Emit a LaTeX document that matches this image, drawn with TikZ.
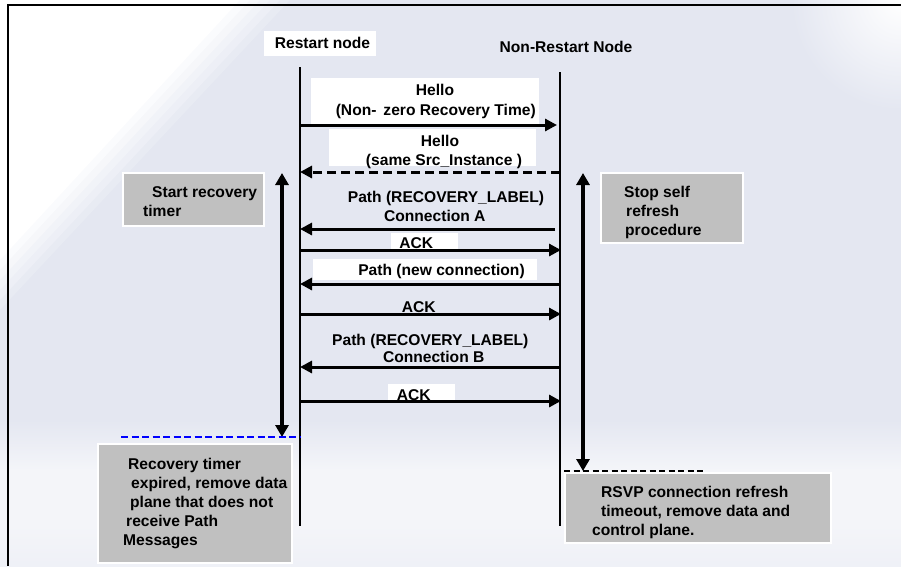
\documentclass[tikz,border=0pt]{standalone}
\usepackage{fontspec}
\setmainfont{Liberation Sans}
\usetikzlibrary{arrows.meta}
\definecolor{bgc}{HTML}{E4E7F1}
\definecolor{lightbg}{HTML}{F4F5F9}
\definecolor{boxgray}{HTML}{C0C0C0}
\tikzset{
  txt/.style={font=\fontsize{15.6}{19}\selectfont\bfseries, inner sep=0pt, text=black},
  lbl/.style={txt, anchor=base},
  gl/.style={txt, anchor=base west},
  life/.style={line width=2pt},
  msg/.style={line width=3pt, -{Triangle[length=12pt,width=12pt]}},
  dmsg/.style={msg, dash pattern=on 9pt off 5pt},
  spanarrow/.style={line width=3.2pt, {Triangle[length=12pt,width=13pt]}-{Triangle[length=12pt,width=13pt]}},
  gbox/.style={fill=boxgray, draw=white, line width=1.2pt, inner sep=0pt},
  wbox/.style={fill=white, inner sep=0pt},
}
\begin{document}
\begin{tikzpicture}[x=1pt, y=-1pt]
\useasboundingbox (0,0) rectangle (901,566);
% background
\begin{scope}
\clip (0,0) rectangle (901,566);
\fill[bgc] (0,0) rectangle (901,566);
\foreach \i in {1,...,6}{
  \pgfmathsetmacro{\s}{300-10*\i}
  \pgfmathsetmacro{\c}{int(\i*100/6)}
  \fill[white!\c!bgc] (0,0) -- (\s,0) -- (0,\s+20) -- cycle;
}
\shade[inner color=white, outer color=bgc] (901,0) circle (110);
\shade[top color=bgc, bottom color=lightbg] (0,420) rectangle (901,470);
\fill[lightbg] (0,470) rectangle (901,525);
\shade[top color=lightbg, bottom color=bgc!60!white] (0,525) rectangle (901,566);
\end{scope}
% frame
\draw[line width=2pt] (901,5) -- (8,5) -- (8,566);

% white label boxes
\node[wbox, minimum width=112pt, minimum height=25pt] (rnbox) at (320,43.5) {};
\node[wbox, minimum width=228pt, minimum height=46pt] (wb1) at (425,101) {};
\node[wbox, minimum width=207pt, minimum height=37pt] (wb2) at (432.5,147.5) {};
\node[wbox, minimum width=67pt, minimum height=17pt] (wb3) at (424.5,241.5) {};
\node[wbox, minimum width=224pt, minimum height=21pt] (wb4) at (425,269.5) {};
\node[wbox, minimum width=67pt, minimum height=17pt] (wb5) at (421.5,392.5) {};

% gray boxes
\node[gbox, minimum width=141pt, minimum height=53pt] (g1) at (193.5,199.5) {};
\node[gbox, minimum width=142pt, minimum height=70pt] (g2) at (672,208) {};
\node[gbox, minimum width=194pt, minimum height=119pt] (g3) at (195,503.5) {};
\node[gbox, minimum width=266pt, minimum height=70pt] (g4) at (698,508) {};

% lifelines
\coordinate (rtop) at (300,67);
\coordinate (rbot) at (300,526);
\coordinate (ntop) at (560,72);
\coordinate (nbot) at (560,526);
\draw[life] (rtop) -- (rbot);
\draw[life] (ntop) -- (nbot);

% message end points
\coordinate (m1a) at (300,125); \coordinate (m1b) at (557,125);
\coordinate (m2a) at (560,172); \coordinate (m2b) at (300,172);
\coordinate (m3a) at (555,229); \coordinate (m3b) at (300,229);
\coordinate (m4a) at (300,250); \coordinate (m4b) at (561,250);
\coordinate (m5a) at (560,284); \coordinate (m5b) at (300,284);
\coordinate (m6a) at (300,314); \coordinate (m6b) at (561,314);
\coordinate (m7a) at (560,367); \coordinate (m7b) at (300,367);
\coordinate (m8a) at (300,401); \coordinate (m8b) at (561,401);

\draw[msg] (m1a) -- (m1b);
\draw[dmsg] (m2a) -- (m2b);
\draw[msg] (m3a) -- (m3b);
\draw[msg] (m4a) -- (m4b);
\draw[msg] (m5a) -- (m5b);
\draw[msg] (m6a) -- (m6b);
\draw[msg] (m7a) -- (m7b);
\draw[msg] (m8a) -- (m8b);

% timer spans
\coordinate (lsa) at (282,173); \coordinate (lsb) at (282,437);
\coordinate (rsa) at (583,173); \coordinate (rsb) at (583,471);
\draw[spanarrow] (lsa) -- (lsb);
\draw[spanarrow] (rsa) -- (rsb);

% dashed markers
\coordinate (bl1) at (121,437); \coordinate (bl2) at (300,437);
\draw[blue, line width=2.6pt, dash pattern=on 7pt off 3.5pt] (bl1) -- (bl2);
\coordinate (kl1) at (564,471); \coordinate (kl2) at (705,471);
\draw[black, line width=2.6pt, dash pattern=on 6pt off 3.5pt] (kl1) -- (kl2);

% node titles
\node[lbl] (rn) at (322.5,48.3) {Restart node};
\node[lbl] (nn) at (566,52.3) {Non-Restart Node};

% message labels
\node[lbl] (t1a) at (435,95.7) {Hello};
\node[lbl] (t1b) at (435.8,115.5) {(Non-\hspace{7pt}zero Recovery Time)};
\node[lbl] (t2a) at (440,146) {Hello};
\node[lbl] (t2b) at (444,165) {(same Src\_Instance )};
\node[lbl] (t3a) at (446,202.3) {Path (RECOVERY\_LABEL)};
\node[lbl] (t3b) at (434.8,221) {Connection A};
\node[lbl] (t4) at (416.3,248.3) {ACK};
\node[lbl] (t5) at (441.5,275) {Path (new connection)};
\node[lbl] (t6) at (418.8,312.5) {ACK};
\node[lbl] (t7a) at (430.3,345.3) {Path (RECOVERY\_LABEL)};
\node[lbl] (t7b) at (433.7,362.3) {Connection B};
\node[lbl] (t8) at (413.7,400) {ACK};

% gray box texts
\node[gl] (g1a) at (152,197.3) {Start recovery};
\node[gl] (g1b) at (143,216) {timer};
\node[gl] (g2a) at (624,197.3) {Stop self};
\node[gl] (g2b) at (626,216) {refresh};
\node[gl] (g2c) at (625,235) {procedure};
\node[gl] (g3a) at (128,469) {Recovery timer};
\node[gl] (g3b) at (131,488) {expired, remove data};
\node[gl] (g3c) at (130,507) {plane that does not};
\node[gl] (g3d) at (126,526) {receive Path};
\node[gl] (g3e) at (123,545) {Messages};
\node[gl] (g4a) at (601,497.3) {RSVP connection refresh};
\node[gl] (g4b) at (601,516.3) {timeout, remove data and};
\node[gl] (g4c) at (592,535.3) {control plane.};
\end{tikzpicture}
\end{document}
